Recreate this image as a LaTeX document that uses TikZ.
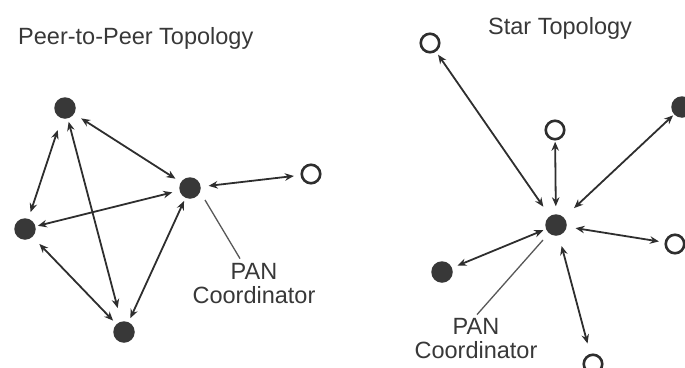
\documentclass[tikz,border=0pt]{standalone}
\usepackage{fontspec}
\setmainfont{Liberation Sans}
\usetikzlibrary{arrows.meta}
\definecolor{ink}{HTML}{2E2E2E}
\definecolor{txt}{HTML}{383838}
\definecolor{dot}{HTML}{383838}
\begin{document}
\begin{tikzpicture}[x=1pt,y=-1pt,
  solid dot/.style={circle,fill=dot,inner sep=0pt,outer sep=0pt,minimum size=21.5pt},
  hollow dot/.style={circle,draw=ink,line width=2.6pt,fill=white,inner sep=0pt,outer sep=0pt,minimum size=18.5pt},
  link/.style={{Stealth[length=9pt,width=7.5pt]}-{Stealth[length=9pt,width=7.5pt]},draw=ink,line width=1.8pt},
  leader/.style={draw=ink!80,line width=1.3pt},
  caption/.style={text=txt,font=\fontsize{23.5}{24}\selectfont,inner sep=0pt},
  label/.style={caption,align=center}]
\useasboundingbox (0,0) rectangle (685,367);

% ---- peer-to-peer topology ----
\node[caption,anchor=base west] (t1) at (18,44) {Peer-to-Peer Topology};
\node[solid dot] (A) at (65,108) {};
\node[solid dot] (B) at (25,229) {};
\node[solid dot] (C) at (124,332) {};
\node[solid dot] (D) at (190,188) {};
\node[hollow dot] (E) at (311,174) {};
\node[label] (L1) at (254,284) {PAN\\Coordinator};

\draw[link,shorten <=8.5pt,shorten >=6.5pt] (A) -- (D);
\draw[link,shorten <=12.5pt,shorten >=7pt] (A) -- (B);
\draw[link,shorten <=3.5pt,shorten >=14pt] (A) -- (C);
\draw[link,shorten <=2.5pt,shorten >=7.5pt] (B) -- (D);
\draw[link,shorten <=10pt,shorten >=5pt] (B) -- (C);
\draw[link,shorten <=3.5pt,shorten >=4.5pt] (D) -- (C);
\draw[link,shorten <=8pt,shorten >=8pt] (D) -- (E);
\draw[leader] ([shift={(15,12)}]D.center) -- ([shift={(-14,-5)}]L1.north);

% ---- star topology ----
\node[caption,anchor=base west] (t2) at (488,34) {Star Topology};
\node[solid dot] (S) at (556,225) {};
\node[hollow dot] (TL) at (430,43) {};
\node[hollow dot] (TM) at (555,130) {};
\node[solid dot] (TR) at (682,107) {};
\node[hollow dot] (R) at (675,244) {};
\node[solid dot] (BL) at (442,272) {};
\node[hollow dot] (BO) at (593,364) {};
\node[label] (L2) at (476,339) {PAN\\Coordinator};

\draw[link,shorten <=11.5pt,shorten >=5pt] (S) -- (TL);
\draw[link,shorten <=8pt,shorten >=2.5pt] (S) -- (TM);
\draw[link,shorten <=14pt,shorten >=1.5pt] (S) -- (TR);
\draw[link,shorten <=9pt,shorten >=7pt] (S) -- (R);
\draw[link,shorten <=3pt,shorten >=6pt] (S) -- (BL);
\draw[link,shorten <=11pt,shorten >=12pt] (S) -- (BO);
\draw[leader] ([shift={(-13,15)}]S.center) -- ([shift={(1,-4)}]L2.north);
\end{tikzpicture}
\end{document}
